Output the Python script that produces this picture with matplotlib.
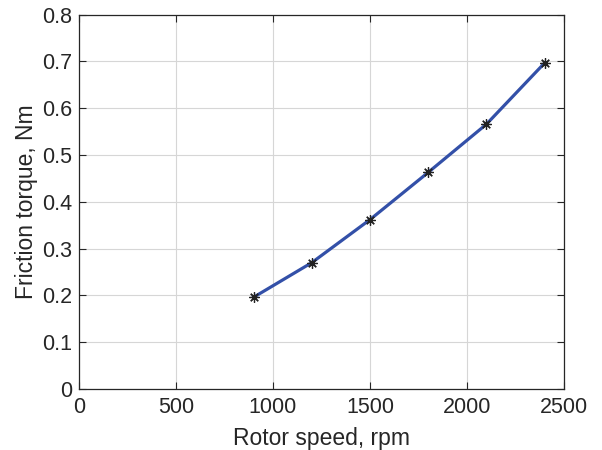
import matplotlib
matplotlib.use("Agg")
import matplotlib.pyplot as plt

speed = [900, 1200, 1500, 1800, 2100, 2400]
torque = [0.196, 0.270, 0.362, 0.463, 0.566, 0.697]
xticks = [0, 500, 1000, 1500, 2000, 2500]
yticks = [0, 0.1, 0.2, 0.3, 0.4, 0.5, 0.6, 0.7, 0.8]

plt.rcParams['font.family'] = ['Liberation Sans', 'DejaVu Sans']
fig = plt.figure(figsize=(6.02, 4.5), dpi=100)
ax = fig.add_axes([0.131, 0.1356, 0.806, 0.8317])
ax.plot(speed, torque, color='#3350a8', lw=2.3, zorder=3)
ax.plot(speed, torque, ls='none', marker=(8, 2, 0), color='#222222', ms=7.5, mew=0.9, zorder=4)
ax.set_xlim(0, 2500)
ax.set_ylim(0, 0.8)
ax.set_xticks(xticks)
ax.set_yticks(yticks)
ax.set_xticklabels([str(v) for v in xticks])
ax.set_yticklabels(['0'] + [f'{v:.1f}' for v in yticks[1:]])
ax.grid(True, color='#d6d6d6', lw=0.8)
ax.set_axisbelow(True)
ax.tick_params(direction='in', top=True, right=True, length=5, width=0.8,
               labelsize=15.5, colors='#262626')
ax.tick_params(axis='y', pad=4.5)
ax.tick_params(axis='x', pad=6)
for s in ax.spines.values():
    s.set_linewidth(0.9)
    s.set_color('#262626')
ax.set_xlabel('Rotor speed, rpm', fontsize=16.5, color='#262626', labelpad=6)
ax.set_ylabel('Friction torque, Nm', fontsize=16.5, color='#262626', labelpad=3)
fig.savefig('out.png', dpi=100)
